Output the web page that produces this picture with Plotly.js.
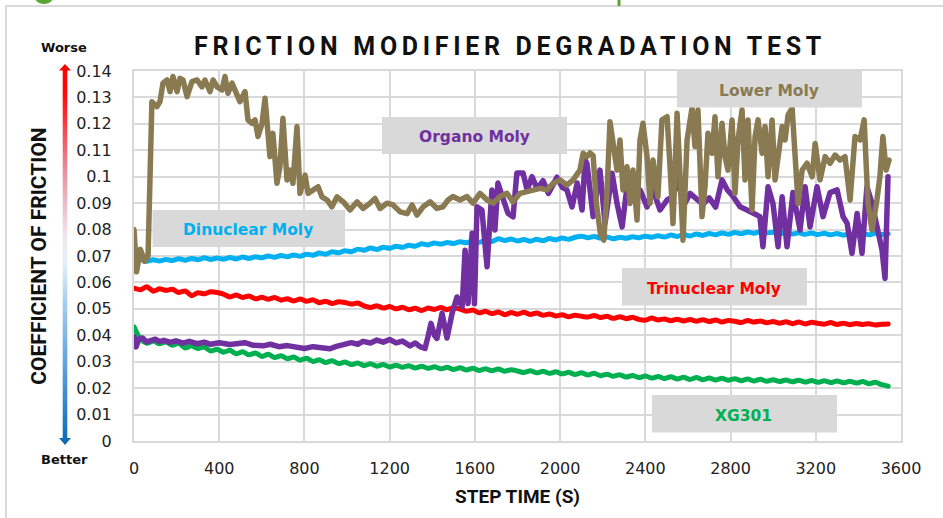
<!DOCTYPE html>
<html>
<head>
<meta charset="utf-8">
<script src="https://cdn.plot.ly/plotly-3.0.1.min.js"></script>
<style>
html,body{margin:0;padding:0;background:#fff;}
#chart{width:943px;height:518px;}
.gtitle{letter-spacing:4.7px;}
.scatterlayer .js-line{stroke-linejoin:round;stroke-linecap:round;}
</style>
</head>
<body>
<div id="chart"></div>
<script>
// ---------------- DATA ----------------
const STEP_S = 30; // sampling step of the three smooth series (s)

const trinuclearCOF = [
0.0578,0.0572,0.0584,0.0567,0.0576,0.0570,0.0574,0.0562,0.0568,0.0550,
0.0561,0.0557,0.0565,0.0562,0.0556,0.0545,0.0552,0.0543,0.0549,0.0538,
0.0544,0.0536,0.0543,0.0533,0.0538,0.0530,0.0537,0.0529,0.0534,0.0523,
0.0529,0.0520,0.0527,0.0524,0.0518,0.0522,0.0511,0.0505,0.0512,0.0503,
0.0509,0.0500,0.0506,0.0497,0.0502,0.0494,0.0503,0.0498,0.0505,0.0497,
0.0504,0.0499,0.0491,0.0496,0.0485,0.0491,0.0482,0.0488,0.0478,0.0486,
0.0480,0.0487,0.0479,0.0484,0.0476,0.0481,0.0473,0.0478,0.0470,0.0476,
0.0472,0.0469,0.0475,0.0467,0.0472,0.0464,0.0470,0.0463,0.0468,0.0460,
0.0457,0.0465,0.0458,0.0462,0.0455,0.0461,0.0454,0.0460,0.0453,0.0459,
0.0452,0.0458,0.0450,0.0456,0.0453,0.0448,0.0456,0.0450,0.0454,0.0447,
0.0452,0.0446,0.0451,0.0444,0.0450,0.0443,0.0449,0.0445,0.0442,0.0448,
0.0441,0.0446,0.0440,0.0445,0.0441,0.0444,0.0439,0.0442,0.0443];

const dinuclearCOF = [
0.0700,0.0688,0.0680,0.0686,0.0681,0.0687,0.0683,0.0690,0.0684,0.0691,
0.0686,0.0693,0.0687,0.0692,0.0688,0.0694,0.0689,0.0696,0.0691,0.0697,
0.0693,0.0700,0.0695,0.0702,0.0697,0.0704,0.0699,0.0707,0.0703,0.0711,
0.0707,0.0716,0.0712,0.0720,0.0716,0.0726,0.0722,0.0730,0.0725,0.0733,
0.0729,0.0737,0.0733,0.0741,0.0737,0.0746,0.0742,0.0749,0.0745,0.0751,
0.0747,0.0754,0.0750,0.0757,0.0752,0.0760,0.0755,0.0765,0.0759,0.0764,
0.0757,0.0762,0.0756,0.0763,0.0758,0.0766,0.0761,0.0768,0.0763,0.0771,
0.0775,0.0769,0.0774,0.0768,0.0772,0.0765,0.0771,0.0767,0.0773,0.0769,
0.0775,0.0771,0.0777,0.0772,0.0779,0.0774,0.0781,0.0776,0.0783,0.0778,
0.0785,0.0780,0.0787,0.0782,0.0789,0.0784,0.0791,0.0786,0.0792,0.0787,
0.0790,0.0784,0.0789,0.0783,0.0788,0.0782,0.0787,0.0781,0.0786,0.0780,
0.0785,0.0779,0.0784,0.0778,0.0785,0.0780,0.0786,0.0781,0.0784];

const xg301COF = [
0.0432,0.0385,0.0370,0.0378,0.0368,0.0375,0.0362,0.0370,0.0352,0.0360,
0.0350,0.0356,0.0341,0.0347,0.0336,0.0343,0.0330,0.0338,0.0326,0.0333,
0.0320,0.0328,0.0316,0.0323,0.0311,0.0318,0.0306,0.0313,0.0301,0.0307,
0.0297,0.0304,0.0293,0.0299,0.0289,0.0295,0.0285,0.0292,0.0283,0.0289,
0.0280,0.0287,0.0279,0.0285,0.0276,0.0283,0.0275,0.0281,0.0273,0.0279,
0.0271,0.0277,0.0269,0.0275,0.0267,0.0273,0.0266,0.0272,0.0264,0.0270,
0.0265,0.0259,0.0266,0.0258,0.0264,0.0256,0.0262,0.0254,0.0260,0.0252,
0.0258,0.0250,0.0256,0.0247,0.0253,0.0245,0.0251,0.0242,0.0248,0.0240,
0.0246,0.0238,0.0244,0.0236,0.0243,0.0235,0.0241,0.0233,0.0240,0.0232,
0.0238,0.0231,0.0237,0.0230,0.0236,0.0228,0.0235,0.0227,0.0234,0.0226,
0.0232,0.0225,0.0231,0.0224,0.0230,0.0223,0.0229,0.0222,0.0228,0.0221,
0.0227,0.0220,0.0226,0.0219,0.0225,0.0217,0.0222,0.0213,0.0207];

const organoMolyTime = [
0,10,22,40,60,80,100,120,140,169,197,230,260,296,330,360,400,450,490,520,
560,606,640,680,720,760,800,840,880,920,950,982,1020,1050,1075,1110,1140,1170,1200,1230,
1260,1296,1320,1342,1366,1380,1394,1410,1422,1446,1469,1493,1516,1540,1554,1568,1587,1598,1610,1633,
1657,1680,1694,1708,1732,1755,1779,1797,1826,1845,1868,1892,1920,1945,1967,1985,2010,2032,2056,2080,
2093,2103,2117,2126,2155,2187,2211,2244,2267,2291,2314,2342,2375,2408,2436,2469,2502,2530,2554,2577,
2610,2643,2670,2700,2730,2760,2785,2812,2845,2877,2906,2938,2952,2976,2999,3023,3042,3065,3093,3126,
3150,3173,3206,3234,3267,3300,3328,3347,3370,3394,3417,3440,3464,3487,3511,3525,3539];
const organoMolyCOF = [
0.0394,0.0356,0.0385,0.0390,0.0375,0.0382,0.0385,0.0376,0.0381,0.0373,0.0379,0.0370,0.0377,0.0368,0.0374,0.0366,0.0372,0.0365,0.0367,0.0372,
0.0362,0.0360,0.0366,0.0357,0.0361,0.0353,0.0350,0.0357,0.0351,0.0349,0.0358,0.0363,0.0372,0.0366,0.0377,0.0371,0.0382,0.0374,0.0384,0.0371,
0.0378,0.0360,0.0371,0.0357,0.0350,0.0395,0.0445,0.0400,0.0388,0.0483,0.0390,0.0483,0.0545,0.0508,0.0722,0.0520,0.0786,0.0520,0.0886,0.0874,
0.0659,0.0950,0.0798,0.0976,0.0912,0.0862,0.0848,0.1014,0.1014,0.0950,0.1000,0.0955,0.0985,0.0937,0.0970,0.0998,0.0960,0.0950,0.0886,0.0976,
0.0920,0.0874,0.1063,0.1050,0.0849,0.1025,0.0824,0.1013,0.0899,0.0810,0.0962,0.0912,0.0950,0.0886,0.0950,0.0874,0.0912,0.0925,0.1000,0.0886,
0.0937,0.0910,0.0895,0.0920,0.0885,0.0988,0.0950,0.0925,0.0886,0.0874,0.0861,0.0849,0.0735,0.0962,0.0899,0.0735,0.0924,0.0735,0.0940,0.0798,
0.0962,0.0810,0.0962,0.0849,0.0940,0.0950,0.0849,0.0824,0.0710,0.0861,0.0710,0.0962,0.0899,0.0810,0.0722,0.0615,0.1000];

const lowerMolyTime = [
0,12,30,50,66,84,108,122,136,155,169,183,202,216,230,249,272,296,319,333,
357,371,390,413,427,441,460,483,497,521,535,554,568,582,601,615,629,638,652,671,
685,699,718,732,746,765,779,803,817,840,864,882,906,929,953,982,1014,1047,1075,1108,
1131,1155,1188,1216,1249,1282,1305,1328,1357,1390,1422,1450,1474,1497,1530,1563,1591,1624,1657,1685,
1718,1750,1779,1812,1845,1873,1906,1939,1967,2000,2032,2061,2093,2108,2126,2140,2155,2170,2190,2205,
2220,2234,2248,2267,2281,2295,2314,2328,2342,2361,2375,2389,2408,2422,2436,2459,2478,2502,2516,2530,
2549,2563,2577,2596,2619,2633,2647,2666,2680,2694,2713,2727,2741,2760,2774,2788,2807,2821,2835,2854,
2868,2882,2901,2915,2929,2948,2962,2976,2995,3009,3023,3042,3056,3070,3089,3103,3117,3136,3159,3183,
3197,3220,3244,3267,3291,3314,3337,3361,3384,3408,3427,3445,3464,3487,3501,3515,3530,3544];
const lowerMolyCOF = [
0.0800,0.0640,0.0725,0.0680,0.0700,0.1284,0.1265,0.1284,0.1354,0.1366,0.1322,0.1379,0.1322,0.1372,0.1366,0.1303,0.1360,0.1366,0.1340,0.1366,
0.1322,0.1366,0.1340,0.1328,0.1379,0.1316,0.1354,0.1303,0.1284,0.1322,0.1215,0.1202,0.1215,0.1152,0.1202,0.1297,0.1152,0.1076,0.1164,0.0975,
0.1038,0.1221,0.0988,0.1025,0.0975,0.1190,0.0937,0.1006,0.0937,0.0950,0.0962,0.0924,0.0912,0.0886,0.0924,0.0905,0.0874,0.0905,0.0880,0.0900,
0.0918,0.0880,0.0900,0.0893,0.0867,0.0860,0.0893,0.0855,0.0886,0.0905,0.0880,0.0886,0.0912,0.0925,0.0912,0.0925,0.0900,0.0937,0.0912,0.0900,
0.0925,0.0937,0.0905,0.0937,0.0943,0.0950,0.0956,0.0950,0.0975,0.0988,0.0968,0.0988,0.1025,0.1089,0.1076,0.1090,0.1080,0.0900,0.0780,0.0760,
0.0937,0.1208,0.1139,0.1025,0.1139,0.0950,0.1038,0.0899,0.1025,0.0836,0.1139,0.1202,0.1076,0.0899,0.1063,0.0924,0.1215,0.1227,0.1038,0.0823,
0.1240,0.1025,0.0760,0.1139,0.1259,0.1114,0.1253,0.0849,0.0962,0.1164,0.1089,0.1227,0.1000,0.1202,0.1076,0.1025,0.1215,0.0937,0.1139,0.1253,
0.0988,0.1215,0.0874,0.1152,0.1215,0.1089,0.1190,0.1000,0.1215,0.0988,0.1089,0.1190,0.1139,0.1234,0.1259,0.1089,0.0899,0.1025,0.1051,0.1000,
0.1126,0.0988,0.1076,0.1051,0.1082,0.1063,0.1076,0.0912,0.1152,0.1139,0.1215,0.0899,0.0798,0.0912,0.1000,0.1152,0.1025,0.1063];

const seriesNames = ['XG301','Trinuclear Moly','Dinuclear Moly','Organo Moly','Lower Moly'];
const seriesColors = ['#00b050','#ff0000','#00b0f0','#7030a0','#8a7a52'];
const yTickValues = [0,0.01,0.02,0.03,0.04,0.05,0.06,0.07,0.08,0.09,0.1,0.11,0.12,0.13,0.14];
const xTickValues = [0,400,800,1200,1600,2000,2400,2800,3200,3600];

// ---------------- BUILD ----------------
const gridTime = arr => arr.map((_, i) => i * STEP_S);
const traces = [
  {x: gridTime(xg301COF), y: xg301COF, name: seriesNames[0], color: seriesColors[0], w: 5, shape: 'spline'},
  {x: gridTime(trinuclearCOF), y: trinuclearCOF, name: seriesNames[1], color: seriesColors[1], w: 5, shape: 'spline'},
  {x: gridTime(dinuclearCOF), y: dinuclearCOF, name: seriesNames[2], color: seriesColors[2], w: 5, shape: 'spline'},
  {x: organoMolyTime, y: organoMolyCOF, name: seriesNames[3], color: seriesColors[3], w: 5.5, shape: 'linear'},
  {x: lowerMolyTime, y: lowerMolyCOF, name: seriesNames[4], color: seriesColors[4], w: 5.5, shape: 'linear'}
].map(s => ({type: 'scatter', mode: 'lines', x: s.x, y: s.y, name: s.name,
  line: {color: s.color, width: s.w, shape: s.shape, smoothing: 0.6}, hoverinfo: 'x+y+name'}));

// layout helpers: pixel -> paper (plot area 134..901 x 71..441)
const PL = 134, PR = 901, PT = 71, PB = 441;
const px = p => (p - PL) / (PR - PL);
const py = p => (PB - p) / (PB - PT);

const labelFont = {family: 'DejaVu Sans, sans-serif', size: 15.5, weight: 700};
const boxes = [
  {text: 'Lower Moly', color: seriesColors[4], b: [677, 862, 70.5, 107.5], t: [769, 91]},
  {text: 'Organo Moly', color: seriesColors[3], b: [382, 567, 117, 154], t: [474, 137]},
  {text: 'Dinuclear Moly', color: seriesColors[2], b: [152.5, 345, 210, 247], t: [248, 230]},
  {text: 'Trinuclear Moly', color: seriesColors[1], b: [622, 807, 268, 305.5], t: [714, 289]},
  {text: 'XG301', color: seriesColors[0], b: [652, 837, 395, 432.5], t: [743, 416]}
];

const shapes = boxes.map(b => ({type: 'rect', xref: 'paper', yref: 'paper', layer: 'above',
  x0: px(b.b[0]), x1: px(b.b[1]), y0: py(b.b[3]), y1: py(b.b[2]),
  fillcolor: '#d9d9d9', line: {width: 0}}));
// outer frame and header remnants
shapes.push({type: 'rect', xref: 'paper', yref: 'paper', layer: 'below',
  x0: px(6), x1: px(960), y0: py(540), y1: py(6), line: {color: '#d9d9d9', width: 2}, fillcolor: 'rgba(0,0,0,0)'});
shapes.push({type: 'circle', xref: 'paper', yref: 'paper', x0: px(33), x1: px(55), y0: py(4), y1: py(-18),
  fillcolor: '#5aa532', line: {width: 0}});
shapes.push({type: 'rect', xref: 'paper', yref: 'paper', x0: px(617.5), x1: px(620.5), y0: py(6), y1: py(-2),
  fillcolor: '#5aa532', line: {width: 0}});

const annotations = boxes.map(b => ({xref: 'paper', yref: 'paper', x: px(b.t[0]), y: py(b.t[1]),
  xanchor: 'center', yanchor: 'middle', showarrow: false, text: b.text,
  font: Object.assign({}, labelFont, {color: b.color})}));
annotations.push({xref: 'paper', yref: 'paper', x: px(64), y: py(47), xanchor: 'center', yanchor: 'middle',
  showarrow: false, text: 'Worse', font: {family: 'DejaVu Sans, sans-serif', size: 13, weight: 700, color: '#111'}});
annotations.push({xref: 'paper', yref: 'paper', x: px(64.5), y: py(460), xanchor: 'center', yanchor: 'middle',
  showarrow: false, text: 'Better', font: {family: 'DejaVu Sans, sans-serif', size: 13, weight: 700, color: '#111'}});

// gradient arrow (red = worse at top, blue = better at bottom)
const arrowSvg = "<svg xmlns='http://www.w3.org/2000/svg' width='20' height='385' viewBox='0 0 20 385'>" +
  "<defs><linearGradient id='g' x1='0' y1='0' x2='0' y2='1'>" +
  "<stop offset='0' stop-color='#ff0000'/><stop offset='0.08' stop-color='#ff0a0a'/>" +
  "<stop offset='0.28' stop-color='#e8909f'/><stop offset='0.45' stop-color='#f0e4ec'/>" +
  "<stop offset='0.52' stop-color='#e6f0fa'/><stop offset='0.62' stop-color='#a8d0ee'/>" +
  "<stop offset='0.76' stop-color='#6aaae0'/><stop offset='1' stop-color='#0868b8'/>" +
  "</linearGradient></defs>" +
  "<polygon fill='url(#g)' points='10,2 16,8.5 12.3,8.5 12.3,376 16,376 10,383 4,376 7.7,376 7.7,8.5 4,8.5'/></svg>";
const images = [{source: 'data:image/svg+xml;charset=utf-8,' + encodeURIComponent(arrowSvg),
  xref: 'paper', yref: 'paper', x: px(55), y: py(62), sizex: 20 / (PR - PL), sizey: 385 / (PB - PT),
  sizing: 'stretch', xanchor: 'left', yanchor: 'top', layer: 'above'}];

const axisCommon = {showgrid: true, gridcolor: '#d9d9d9', gridwidth: 2, showline: true, linecolor: '#d9d9d9',
  linewidth: 2, mirror: true, zeroline: false, ticks: '', fixedrange: true, automargin: false,
  tickfont: {family: 'DejaVu Sans, sans-serif', size: 16, color: '#222'}};

const layout = {
  width: 943, height: 518,
  margin: {l: PL, r: 943 - PR, t: PT, b: 518 - PB},
  paper_bgcolor: '#ffffff', plot_bgcolor: '#ffffff', showlegend: false,
  title: {text: 'FRICTION MODIFIER DEGRADATION TEST', xref: 'container', yref: 'container',
    x: 510 / 943, y: 1 - 46 / 518, xanchor: 'center', yanchor: 'middle',
    font: {family: 'Roboto, sans-serif', size: 25, weight: 700, color: '#111'}},
  xaxis: Object.assign({}, axisCommon, {range: [0, 3600], tickmode: 'array', tickvals: xTickValues,
    ticktext: xTickValues.map(String), ticklabelstandoff: 12,
    title: {text: 'STEP TIME (S)', standoff: 12, font: {family: 'Roboto, sans-serif', size: 19, weight: 700, color: '#111'}}}),
  yaxis: Object.assign({}, axisCommon, {range: [0, 0.14], tickmode: 'array', tickvals: yTickValues,
    ticktext: yTickValues.map(String), ticklabelstandoff: 17,
    title: {text: 'COEFFICIENT OF FRICTION', standoff: 24, font: {family: 'Roboto, sans-serif', size: 21, weight: 700, color: '#111'}}}),
  shapes: shapes, annotations: annotations, images: images
};

Plotly.newPlot('chart', traces, layout, {displayModeBar: false, staticPlot: true});
</script>
</body>
</html>
